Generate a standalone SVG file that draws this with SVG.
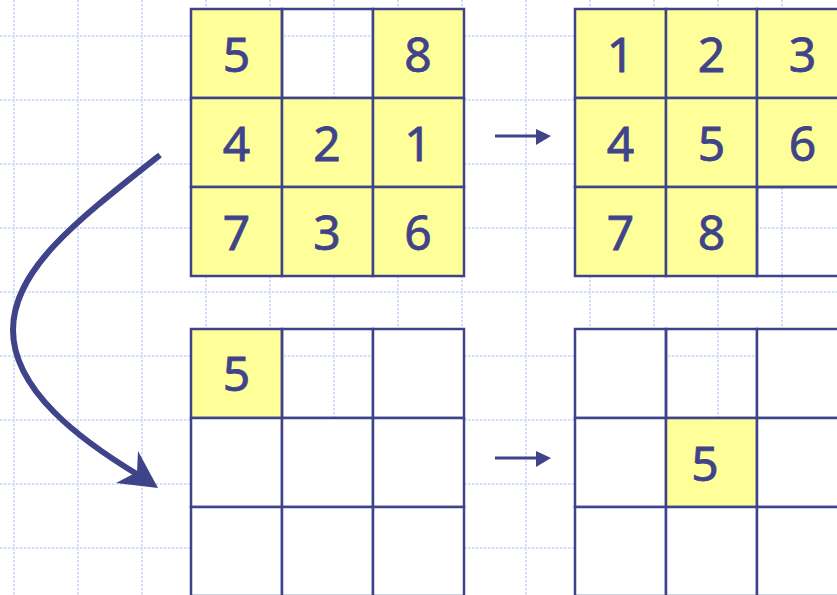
<svg xmlns="http://www.w3.org/2000/svg" width="837" height="595" viewBox="0 0 837 595">
<style>
.g{stroke:#d3def9;stroke-width:2;stroke-dasharray:2.5 1.5;fill:none}
.c{stroke:#3f4389;stroke-width:2.5}
.y{fill:#ffff99}
.w{fill:#ffffff}
.n{fill:none}
.t{font-family:"Noto Sans","DejaVu Sans",sans-serif;font-size:48px;fill:#3f4389;stroke:#3f4389;stroke-width:0.8;text-anchor:middle}
.a{stroke:#3f4389;fill:none}
.h{fill:#3f4389}
</style>
<rect width="837" height="595" fill="#ffffff"/>
<g id="grid">
<path class="g" d="M14 0V595M78 0V595M142 0V595M206 0V595M270 0V595M334 0V595M398 0V595M462 0V595M526 0V595M590 0V595M654 0V595M718 0V595M782 0V595"/>
<path class="g" d="M0 36H837M0 100H837M0 164H837M0 228H837M0 292H837M0 356H837M0 420H837M0 484H837M0 548H837"/>
</g>
<g id="board-start">
<rect class="c y" x="191" y="9" width="91" height="89"/>
<rect class="c n" x="282" y="9" width="91" height="89"/>
<rect class="c y" x="373" y="9" width="91" height="89"/>
<rect class="c y" x="191" y="98" width="91" height="89"/>
<rect class="c y" x="282" y="98" width="91" height="89"/>
<rect class="c y" x="373" y="98" width="91" height="89"/>
<rect class="c y" x="191" y="187" width="91" height="89"/>
<rect class="c y" x="282" y="187" width="91" height="89"/>
<rect class="c y" x="373" y="187" width="91" height="89"/>
<text class="t" x="236.5" y="72">5</text>
<text class="t" x="418" y="72">8</text>
<text class="t" x="236.5" y="161">4</text>
<text class="t" x="327" y="161">2</text>
<text class="t" x="418" y="161">1</text>
<text class="t" x="236.5" y="250">7</text>
<text class="t" x="327" y="250">3</text>
<text class="t" x="418" y="250">6</text>
</g>
<g id="board-goal">
<rect class="c y" x="575" y="9" width="91" height="89"/>
<rect class="c y" x="666" y="9" width="91" height="89"/>
<rect class="c y" x="757" y="9" width="91" height="89"/>
<rect class="c y" x="575" y="98" width="91" height="89"/>
<rect class="c y" x="666" y="98" width="91" height="89"/>
<rect class="c y" x="757" y="98" width="91" height="89"/>
<rect class="c y" x="575" y="187" width="91" height="89"/>
<rect class="c y" x="666" y="187" width="91" height="89"/>
<rect class="c n" x="757" y="187" width="91" height="89"/>
<text class="t" x="620.5" y="72">1</text>
<text class="t" x="711.5" y="72">2</text>
<text class="t" x="802.5" y="72">3</text>
<text class="t" x="620.5" y="161">4</text>
<text class="t" x="711.5" y="161">5</text>
<text class="t" x="802.5" y="161">6</text>
<text class="t" x="620.5" y="250">7</text>
<text class="t" x="711.5" y="250">8</text>
</g>
<g id="board-tile-start">
<rect class="c y" x="191" y="329" width="91" height="89"/>
<rect class="c n" x="282" y="329" width="91" height="89"/>
<rect class="c w" x="373" y="329" width="91" height="89"/>
<rect class="c w" x="191" y="418" width="91" height="89"/>
<rect class="c w" x="282" y="418" width="91" height="89"/>
<rect class="c w" x="373" y="418" width="91" height="89"/>
<rect class="c w" x="191" y="507" width="91" height="89"/>
<rect class="c w" x="282" y="507" width="91" height="89"/>
<rect class="c w" x="373" y="507" width="91" height="89"/>
<text class="t" x="236.5" y="391">5</text>
</g>
<g id="board-tile-goal">
<rect class="c w" x="575" y="329" width="91" height="89"/>
<rect class="c n" x="666" y="329" width="91" height="89"/>
<rect class="c w" x="757" y="329" width="91" height="89"/>
<rect class="c w" x="575" y="418" width="91" height="89"/>
<rect class="c y" x="666" y="418" width="91" height="89"/>
<rect class="c w" x="757" y="418" width="91" height="89"/>
<rect class="c w" x="575" y="507" width="91" height="89"/>
<rect class="c w" x="666" y="507" width="91" height="89"/>
<rect class="c w" x="757" y="507" width="91" height="89"/>
<text class="t" x="705" y="481">5</text>
</g>
<g id="connectors">
<path class="a" stroke-width="3" d="M495 136H538"/>
<polygon class="h" points="536,129 551,136 536,145"/>
<path class="a" stroke-width="3" d="M495 458H538"/>
<polygon class="h" points="536,451 551,458 536,467"/>
<path class="a" stroke-width="6" d="M160 155C75 222 13 270 13 330C13 390 80 440 140 476"/>
<polygon class="h" points="158,488 138,451 137,472 116,483"/>
</g>
</svg>
